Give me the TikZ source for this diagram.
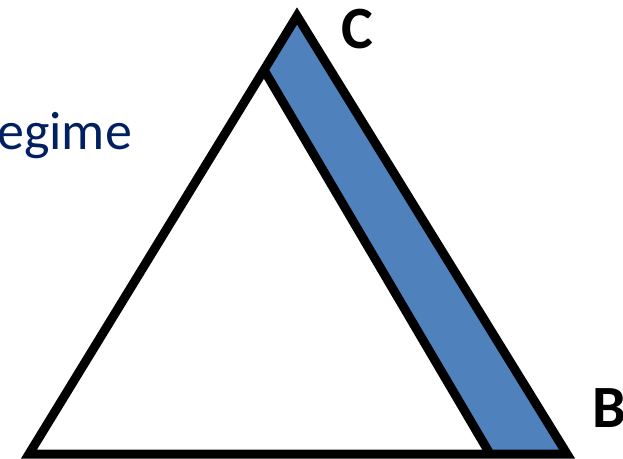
\documentclass[tikz,border=0pt]{standalone}
\usepackage{fontspec}
\setmainfont{Carlito}
\usetikzlibrary{positioning}

\definecolor{bandblue}{HTML}{4F81BD}
\definecolor{navy}{HTML}{002060}

\begin{document}
\begin{tikzpicture}[
    x=1pt, y=-1pt,
    edge/.style={draw=black, line width=9pt, line join=miter},
    band/.style={fill=bandblue},
    corner/.style={inner sep=0pt, font=\fontsize{60}{66}\selectfont\bfseries},
    label/.style={inner sep=0pt, text=navy, font=\fontsize{54}{60}\selectfont}
]
\useasboundingbox (0,0) rectangle (623,458);

% Vertices
\coordinate (apex) at (297,16);
\coordinate (left) at (29,454);
\coordinate (right) at (567,454);
\coordinate (bandtop) at (264,70);
\coordinate (bandbot) at (490,454);

% Band along the right side
\fill[band] (bandtop) -- (apex) -- (right) -- (bandbot) -- cycle;
\draw[edge] (bandtop) -- (bandbot);

% Triangle
\draw[edge] (apex) -- (right) -- (left) -- cycle;

% Labels
\node[corner, anchor=base west] (labC) at (341,48) {C};
\node[corner, anchor=base west] (labB) at (592,427) {B};
\node[label, anchor=base west] (regime) at (-3,149) {egime};

\end{tikzpicture}
\end{document}
